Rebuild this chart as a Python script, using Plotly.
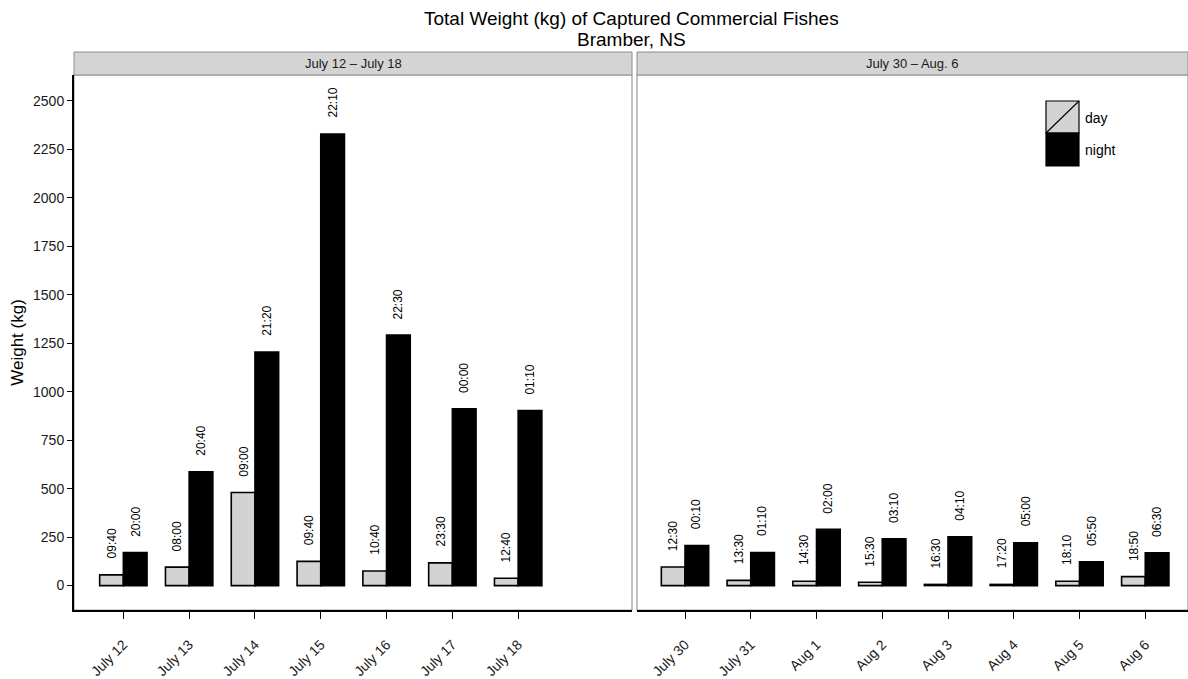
import plotly.graph_objects as go

# ---- data -------------------------------------------------------------
week1_dates = ["July 12", "July 13", "July 14", "July 15", "July 16", "July 17", "July 18"]
week1_day_kg = [55, 95, 480, 125, 75, 117, 38]
week1_night_kg = [170, 587, 1205, 2330, 1292, 912, 903]
week1_day_time = ["09:40", "08:00", "09:00", "09:40", "10:40", "23:30", "12:40"]
week1_night_time = ["20:00", "20:40", "21:20", "22:10", "22:30", "00:00", "01:10"]

week2_dates = ["July 30", "July 31", "Aug 1", "Aug 2", "Aug 3", "Aug 4", "Aug 5", "Aug 6"]
week2_day_kg = [96, 27, 22, 17, 6, 6, 22, 46]
week2_night_kg = [207, 171, 290, 241, 251, 221, 123, 169]
week2_day_time = ["12:30", "13:30", "14:30", "15:30", "16:30", "17:20", "18:10", "18:50"]
week2_night_time = ["00:10", "01:10", "02:00", "03:10", "04:10", "05:00", "05:50", "06:30"]

panel_titles = ["July 12 \u2013 July 18", "July 30 \u2013 Aug. 6"]
y_ticks = [0, 250, 500, 750, 1000, 1250, 1500, 1750, 2000, 2250, 2500]

# ---- styling ----------------------------------------------------------
FONT = "Liberation Sans, Arial, Helvetica, sans-serif"
DAY_FILL = "#d3d3d3"
NIGHT_FILL = "#000000"
BAR_W = 0.36
W, H = 1188, 679
ML, MR, MT, MB = 74, 0, 75, 69
PW, PH = W - ML - MR, H - MT - MB


def px_x(x):
    return (x - ML) / PW


def px_y(y):
    return (H - MB - y) / PH


fig = go.Figure()
panels = [
    ("x", "y", week1_dates, week1_day_kg, week1_night_kg, week1_day_time, week1_night_time),
    ("x2", "y2", week2_dates, week2_day_kg, week2_night_kg, week2_day_time, week2_night_time),
]

annotations = []
for xa, ya, dates, day_kg, night_kg, day_t, night_t in panels:
    idx = list(range(len(dates)))
    fig.add_trace(go.Bar(
        x=idx, y=day_kg, name="day", width=BAR_W, offset=-BAR_W,
        marker=dict(color=DAY_FILL, line=dict(color="black", width=1.6)),
        xaxis=xa, yaxis=ya, showlegend=False))
    fig.add_trace(go.Bar(
        x=idx, y=night_kg, name="night", width=BAR_W, offset=0,
        marker=dict(color=NIGHT_FILL, line=dict(color="black", width=1.6)),
        xaxis=xa, yaxis=ya, showlegend=False))
    # time-of-haul labels above each bar
    for i in idx:
        for xv, yv, txt in ((i - BAR_W / 2, day_kg[i], day_t[i]),
                            (i + BAR_W / 2, night_kg[i], night_t[i])):
            annotations.append(dict(
                x=xv, y=yv, xref=xa, yref=ya, text=txt, textangle=-90,
                showarrow=False, xanchor="center", yanchor="bottom", yshift=14,
                font=dict(family=FONT, size=12, color="black")))

axis_common = dict(showgrid=False, zeroline=False, ticks="outside", ticklen=7,
                   tickcolor="black", tickwidth=1.2, showline=True, linecolor="black",
                   linewidth=2, tickangle=-45, ticklabelstandoff=12,
                   tickfont=dict(family=FONT, size=14, color="#1a1a1a"))

y_range = [-126, 2634]
fig.update_layout(
    width=W, height=H,
    margin=dict(l=ML, r=MR, t=MT, b=MB, autoexpand=False),
    paper_bgcolor="white", plot_bgcolor="white",
    barmode="overlay",
    font=dict(family=FONT),
    xaxis=dict(domain=[0, px_x(632)], range=[-0.75, 7.73],
               tickvals=list(range(len(week1_dates))), ticktext=week1_dates, **axis_common),
    xaxis2=dict(domain=[px_x(637), 1], range=[-0.73, 7.65],
                tickvals=list(range(len(week2_dates))), ticktext=week2_dates, **axis_common),
    yaxis=dict(range=y_range, tickvals=y_ticks, showgrid=False, zeroline=False,
               ticks="outside", ticklen=5, tickcolor="black", tickwidth=1.2,
               showline=True, linecolor="black", linewidth=2,
               tickfont=dict(family=FONT, size=14, color="#1a1a1a"),
               title=dict(text="Weight (kg)", standoff=5,
                          font=dict(family=FONT, size=17, color="black"))),
    yaxis2=dict(range=y_range, anchor="x2", showgrid=False, zeroline=False,
                showticklabels=False, ticks="", showline=False),
)

shapes = []
# panel borders
for xr, yr in (("x domain", "y domain"), ("x2 domain", "y2 domain")):
    shapes.append(dict(type="rect", xref=xr, yref=yr, x0=0, x1=1, y0=0, y1=1,
                       line=dict(color="#9a9a9a", width=1.2), fillcolor="rgba(0,0,0,0)",
                       layer="below"))
# facet strips
for k, xr in enumerate(("x domain", "x2 domain")):
    shapes.append(dict(type="rect", xref=xr, yref="paper", x0=0, x1=1,
                       y0=1, y1=px_y(52), line=dict(color="#8c8c8c", width=1),
                       fillcolor="#d4d4d4"))
    annotations.append(dict(xref=xr, yref="paper", x=0.5, y=px_y(63.5),
                            text=panel_titles[k], showarrow=False,
                            xanchor="center", yanchor="middle",
                            font=dict(family=FONT, size=13, color="#1a1a1a")))

# legend keys
key_x0, key_x1 = px_x(1046), px_x(1079)
shapes.append(dict(type="rect", xref="paper", yref="paper", x0=key_x0, x1=key_x1,
                   y0=px_y(133), y1=px_y(101), fillcolor=DAY_FILL,
                   line=dict(color="black", width=1.2)))
shapes.append(dict(type="line", xref="paper", yref="paper", x0=key_x0, x1=key_x1,
                   y0=px_y(133), y1=px_y(101), line=dict(color="black", width=1.2)))
shapes.append(dict(type="rect", xref="paper", yref="paper", x0=key_x0, x1=key_x1,
                   y0=px_y(166), y1=px_y(133), fillcolor=NIGHT_FILL,
                   line=dict(color="black", width=1.2)))
for label, yc in (("day", 118), ("night", 150)):
    annotations.append(dict(xref="paper", yref="paper", x=px_x(1083), y=px_y(yc),
                            text=label, showarrow=False, xanchor="left", yanchor="middle",
                            font=dict(family=FONT, size=14, color="black")))

# title, centred over both panels
for txt, yc in (("Total Weight (kg) of Captured Commercial Fishes", 18), ("Bramber, NS", 39)):
    annotations.append(dict(xref="paper", yref="paper", x=0.5, y=px_y(yc),
                            text=txt, showarrow=False, xanchor="center", yanchor="middle",
                            font=dict(family=FONT, size=19, color="black")))

fig.update_layout(shapes=shapes, annotations=annotations)
fig.write_html("out.html")
